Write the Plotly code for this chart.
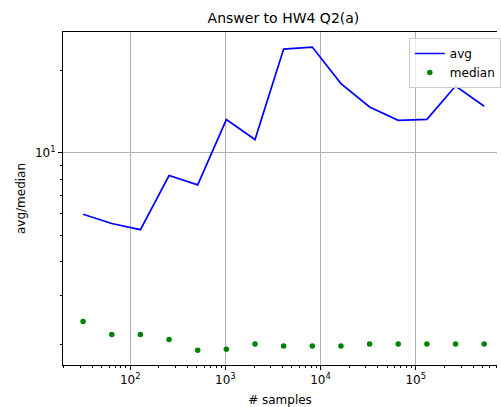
import plotly.graph_objects as go

samples = [32, 64, 128, 256, 512, 1024, 2048, 4096, 8192, 16384, 32768, 65536, 131072, 262144, 524288]
avg = [5.97, 5.52, 5.24, 8.27, 7.64, 13.24, 11.19, 23.97, 24.37, 17.92, 14.72, 13.16, 13.27, 17.56, 14.81]
median = [2.42, 2.17, 2.17, 2.08, 1.90, 1.915, 2.0, 1.97, 1.97, 1.97, 2.0, 2.0, 2.0, 2.0, 2.0]

x_major = [100, 1000, 10000, 100000]
x_major_text = ["10<sup>2</sup>", "10<sup>3</sup>", "10<sup>4</sup>", "10<sup>5</sup>"]
x_minor = [m * 10 ** e for e in range(1, 6) for m in range(2, 10)]
y_major = [10]
y_major_text = ["10<sup>1</sup>"]
y_minor = [2, 3, 4, 5, 6, 7, 8, 9, 20]

fig = go.Figure()
fig.add_trace(go.Scatter(x=samples, y=avg, mode="lines", name="avg",
                         line=dict(color="#0000ff", width=1.7)))
fig.add_trace(go.Scatter(x=samples, y=median, mode="markers", name="median",
                         marker=dict(color="#008000", size=5.5)))

font = "DejaVu Sans, sans-serif"
fig.update_layout(
    width=501, height=407,
    margin=dict(l=63, r=0, t=32, b=42),
    paper_bgcolor="white", plot_bgcolor="white",
    font=dict(family=font, size=12, color="black"),
    title=dict(text="Answer to HW4 Q2(a)", x=(285.5 - 63) / 438, xref="paper",
               xanchor="center", y=1 - 18 / 407, yanchor="middle",
               font=dict(size=14, color="black")),
    legend=dict(x=(412 - 63) / 438, y=1 - (38 - 32) / 333, xanchor="left", yanchor="top",
                bgcolor="rgba(255,255,255,0.8)", bordercolor="#cccccc", borderwidth=1,
                font=dict(size=12), tracegroupgap=0),
    showlegend=True,
)
fig.update_xaxes(type="log", range=[1.294, 5.854],
                 tickmode="array", tickvals=x_major, ticktext=x_major_text,
                 ticks="outside", ticklen=4, tickwidth=1, tickcolor="black",
                 showgrid=True, gridcolor="#b0b0b0", gridwidth=1,
                 showline=True, linecolor="black", linewidth=1, mirror=True,
                 zeroline=False,
                 minor=dict(tickvals=x_minor, ticks="outside", ticklen=2, tickcolor="black",
                            showgrid=False),
                 title=dict(text="# samples", font=dict(size=12), standoff=9))
fig.update_yaxes(type="log", range=[0.2247, 1.442],
                 tickmode="array", tickvals=y_major, ticktext=y_major_text,
                 ticks="outside", ticklen=4, tickwidth=1, tickcolor="black",
                 showgrid=True, gridcolor="#b0b0b0", gridwidth=1,
                 showline=True, linecolor="black", linewidth=1, mirror=False,
                 zeroline=False,
                 minor=dict(tickvals=y_minor, ticks="outside", ticklen=2, tickcolor="black",
                            showgrid=False),
                 title=dict(text="avg/median", font=dict(size=12), standoff=6))

fig.write_html("out.html", config={"displayModeBar": False},
               post_script="document.body.style.margin='0';document.body.style.overflow='hidden';")
